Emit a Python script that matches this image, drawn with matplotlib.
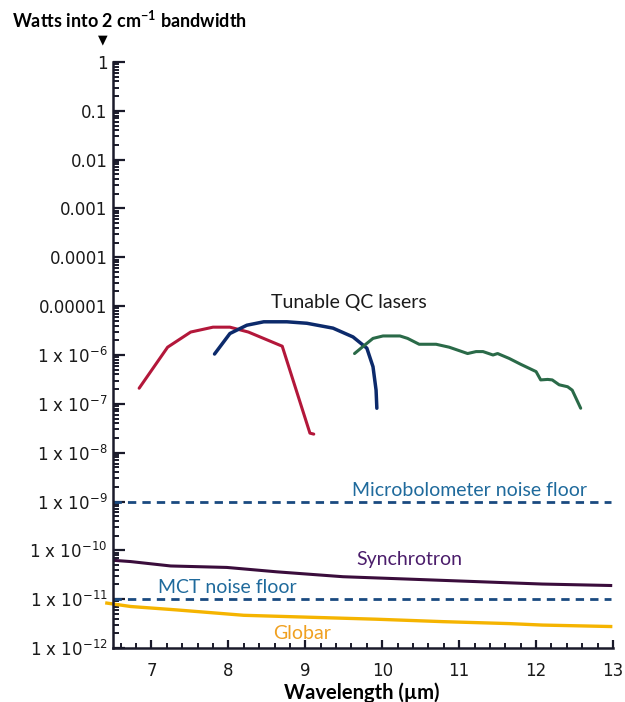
import numpy as np
import matplotlib
matplotlib.use('Agg')
import matplotlib.pyplot as plt
from matplotlib.ticker import FixedLocator, MultipleLocator, LogLocator, NullFormatter

# tick labels use a face with wide digits, annotations use Lato
plt.rcParams['font.family'] = ['DejaVu Sans']
plt.rcParams['mathtext.default'] = 'regular'
text_font = ['Lato', 'DejaVu Sans']

# QC laser curves (wavelength in um, log10 of watts)
red_x = [6.84, 7.21, 7.51, 7.80, 8.02, 8.26, 8.70, 9.06, 9.11]
red_log = [-6.68, -5.84, -5.53, -5.43, -5.43, -5.53, -5.82, -7.60, -7.62]

blue_x = [7.82, 8.02, 8.24, 8.46, 8.76, 9.02, 9.36, 9.62, 9.80, 9.88, 9.92, 9.93]
blue_log = [-5.98, -5.56, -5.39, -5.32, -5.32, -5.35, -5.45, -5.63, -5.86, -6.24, -6.72, -7.09]

green_x = [9.64, 9.77, 9.88, 10.01, 10.23, 10.33, 10.48, 10.70, 10.87, 11.11, 11.22, 11.31,
           11.44, 11.50, 11.65, 11.80, 12.00, 12.06, 12.15, 12.21, 12.30, 12.41, 12.47, 12.58]
green_log = [-5.97, -5.80, -5.66, -5.61, -5.61, -5.66, -5.78, -5.78, -5.84, -5.97, -5.93, -5.93,
             -6.00, -5.97, -6.07, -6.19, -6.34, -6.51, -6.50, -6.51, -6.61, -6.65, -6.72, -7.09]

# broadband sources
sync_x = [6.47, 6.73, 7.25, 7.98, 8.63, 9.49, 10.36, 11.22, 12.08, 12.97]
sync_log = [-10.20, -10.23, -10.32, -10.35, -10.44, -10.54, -10.59, -10.64, -10.69, -10.72]

globar_x = [6.42, 6.73, 7.33, 8.20, 9.06, 9.92, 10.79, 11.65, 12.08, 12.97]
globar_log = [-11.08, -11.15, -11.22, -11.33, -11.37, -11.41, -11.46, -11.50, -11.53, -11.56]

# detector noise floors
micro_floor = 1e-9
mct_floor = 1e-11
floor_x = [6.5, 12.97]

# y tick labels
ytick_vals = [10.0**k for k in range(0, -13, -1)]
ytick_labels = ['1', '0.1', '0.01', '0.001', '0.0001', '0.00001'] + \
    ['1 x 10$^{-%d}$' % k for k in range(6, 13)]
xtick_vals = [7, 8, 9, 10, 11, 12, 13]
xtick_labels = ['7', '8', '9', '10', '11', '12', '13']

fig = plt.figure(figsize=(6.25, 7.02), dpi=100)
ax = fig.add_axes([0.1808, 0.0769, 0.8, 0.8348])
ax.set_yscale('log')

lw = 2.2
ax.plot(red_x, 10.0**np.array(red_log), color='#b3173a', lw=lw, solid_capstyle='round')
ax.plot(blue_x, 10.0**np.array(blue_log), color='#0c2a6b', lw=lw + 0.3, solid_capstyle='round')
ax.plot(green_x, 10.0**np.array(green_log), color='#2a6a48', lw=lw, solid_capstyle='round')
ax.plot(sync_x, 10.0**np.array(sync_log), color='#3a0d3c', lw=lw)
ax.plot(globar_x, 10.0**np.array(globar_log), color='#f5b400', lw=lw + 0.2, clip_on=False)

ax.plot(floor_x, [micro_floor] * 2, color='#1a4a80', lw=2.0, ls=(0, (3, 2.2)))
ax.plot(floor_x, [mct_floor] * 2, color='#1a4a80', lw=2.0, ls=(0, (3, 2.2)))

ax.set_xlim(6.5, 13)
ax.set_ylim(1e-12, 1)

# annotations
ax.text(9.56, 1.2e-5, 'Tunable QC lasers', fontsize=14, color='#1a1a1a',
        ha='center', va='center', family=text_font)
ax.text(11.14, 1.7e-9, 'Microbolometer noise floor', fontsize=14, color='#1f6a9c',
        ha='center', va='center', family=text_font)
ax.text(10.35, 6.6e-11, 'Synchrotron', fontsize=14, color='#4b1d6b',
        ha='center', va='center', family=text_font)
ax.text(7.99, 1.7e-11, 'MCT noise floor', fontsize=14, color='#1f6a9c',
        ha='center', va='center', family=text_font)
ax.text(8.96, 2.0e-12, 'Globar', fontsize=14, color='#f0a020',
        ha='center', va='center', family=text_font)

# axes styling
for side in ['top', 'right']:
    ax.spines[side].set_visible(False)
for side in ['left', 'bottom']:
    ax.spines[side].set_linewidth(1.8)
    ax.spines[side].set_color('#1a1a2a')

ax.yaxis.set_major_locator(FixedLocator(ytick_vals))
ax.set_yticklabels(ytick_labels)
ax.yaxis.set_minor_locator(LogLocator(base=10, subs=np.arange(2, 10), numticks=30))
ax.yaxis.set_minor_formatter(NullFormatter())
ax.xaxis.set_major_locator(FixedLocator(xtick_vals))
ax.set_xticklabels(xtick_labels)
ax.xaxis.set_minor_locator(MultipleLocator(0.2))

ax.tick_params(axis='y', which='major', direction='in', length=8.5, width=1.6,
               color='#1a1a2a', labelsize=12, pad=4, labelcolor='#1a1a1a')
ax.tick_params(axis='y', which='minor', direction='in', length=4.5, width=1.4, color='#1a1a2a')
ax.tick_params(axis='x', which='major', direction='in', length=6, width=1.6,
               color='#1a1a2a', labelsize=12, pad=10, labelcolor='#1a1a1a')
ax.tick_params(axis='x', which='minor', direction='in', length=3.5, width=1.4, color='#1a1a2a')

ax.set_xlabel('Wavelength (µm)', fontsize=14.5, fontweight='bold', va='center', family=text_font)
ax.xaxis.set_label_coords(0.498, -0.076)

fig.text(12 / 625, 1 - 20 / 702, 'Watts into 2 cm$^{-1}$ bandwidth', fontsize=13,
         fontweight='bold', ha='left', va='center', family=text_font)
fig.text(103 / 625, 1 - 40 / 702, '▼', fontsize=9, ha='center', va='center')

fig.savefig('out.png', dpi=100)
